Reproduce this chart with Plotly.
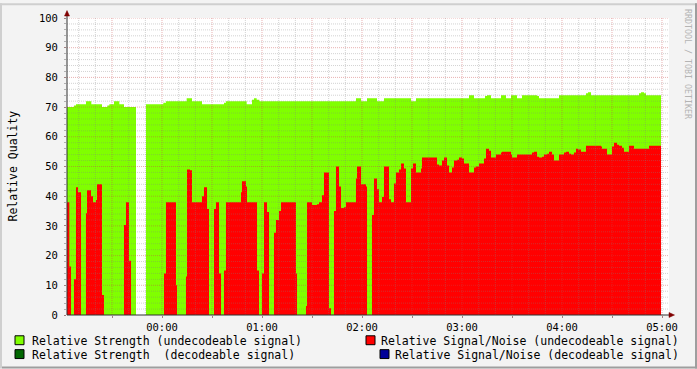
import plotly.graph_objects as go
import pandas as pd

# ---------------- data (minutes relative to 00:00, values in %) ----------------
BASE = pd.Timestamp("2024-01-02 00:00")

strength_t = [-57.5, -52.8, -51.6, -45.6, -42.4, -36, -32.8, -31.6, -28.8, -25.6,
              -22.8, -15.6, -9.6, 0.8, 2.4, 14.8, 18, 24, 37.2, 38.4,
              50.8, 54, 55.2, 56.8, 58.4, 116.4, 119.4, 123, 129, 133.2,
              149.4, 152.4, 184.2, 187.2, 193.8, 195, 197.4, 203.4, 206.4, 209.4,
              213, 216, 225, 226.2, 238.2, 254.4, 255.6, 257.4, 286.2, 287.4,
              289.2, 290.4]
strength_v = [70, 70.5, 71, 72, 71, 70, 70.5, 71, 72, 71,
              70, None, 71, 71.5, 72, 73, 72, 71, 71.5, 72,
              71, 72.5, 73, 72.5, 72, 73, 72, 73, 72, 73,
              72, 73, 74, 73, 73.7, 74, 73, 74, 73, 74,
              73, 74, 73.7, 73, 74, 74.7, 75, 74, 74.7, 75,
              74.7, 74]

snr_t = [-57.5, -55.6, -54.6, -52.8, -51.6, -50.4, -48.6, -45.6, -45, -42.6,
         -41.4, -39.6, -39, -36, -34.8, -22.8, -21.6, -19.8, -18.6, 1.2,
         2.4, 8.4, 9, 14.4, 15, 16.8, 18, 24, 25.2, 27,
         28.2, 31.2, 32.4, 34.2, 35.4, 37.2, 38.4, 47.4, 48, 50.4,
         51, 57, 58.2, 60, 61.2, 63, 64.2, 67.2, 68.4, 70.2,
         71.4, 80.4, 81, 86.4, 87, 90, 93, 94.2, 96, 97.2,
         100.2, 101.4, 103.2, 104.4, 106.2, 107.4, 109.2, 110.4, 116.4, 117,
         119.4, 122.4, 123, 126, 127.2, 129, 130.2, 132, 133.2, 136.2,
         137.4, 139.2, 140.4, 142.2, 143.4, 145.2, 146.4, 149.4, 150.6, 152.4,
         155.4, 156, 165, 166.2, 168, 169.2, 171, 172.2, 174, 175.2,
         177, 178.2, 180, 181.2, 184.2, 187.2, 188.4, 190.2, 193.2, 194.4,
         196.2, 197.4, 200.4, 203.4, 204, 209.4, 210, 213, 222, 223.2,
         225, 226.2, 228, 229.2, 231, 232.2, 234, 235.2, 238.2, 241.2,
         242.4, 244.2, 245.4, 247.2, 248.4, 249.6, 251.4, 254.4, 263.4, 264,
         267, 270, 271.2, 273, 274.2, 276, 277.2, 280.2, 283.2, 292.2]
snr_v = [38, 16.3, 0, 12, 43, 41.3, 0, 34.3, 42, 40,
         38, 38.7, 44, 6.7, 0, 30.3, 38, 18.3, 0, 14,
         38, 10, 0, 13, 49, 48.7, 38, 40, 43, 35.7,
         0, 35.7, 38, 14, 0, 15, 38, 41.3, 45, 43.3,
         38, 15, 0, 14, 38, 34.7, 0, 27.7, 32, 35,
         38, 14, 0, 3, 38, 37, 37.3, 38, 40.3, 48,
         2.3, 0, 35, 50, 43.3, 36, 36.3, 38, 46, 50,
         44, 43.3, 0, 33.7, 46, 42.3, 38, 39.7, 50, 39,
         38, 44.3, 48, 49, 51, 49.3, 38, 49.3, 51, 48,
         49.3, 53, 50.7, 50.3, 52, 53, 50.3, 48, 49.7, 52,
         52.3, 53, 52.7, 51, 48, 49.7, 50, 51, 52.7, 56,
         55.3, 53, 54, 54.7, 55, 54, 53, 54, 54.7, 55,
         53.3, 53, 53.3, 54, 54.3, 55, 54, 52, 54, 54.7,
         55, 54.3, 54, 54.7, 56, 55.7, 55, 57, 56.7, 56,
         54, 56.7, 58, 57.3, 57, 56.3, 55, 57, 56, 57]

data_end = 299.4
x_range = [-57, 304.2]

tick_minutes = [0, 60, 120, 180, 240, 300]
tick_labels = ["00:00", "01:00", "02:00", "03:00", "04:00", "05:00"]

legend_labels = ["Relative Strength (undecodeable signal)",
                 "Relative Signal/Noise (undecodeable signal)",
                 "Relative Strength\u00a0 (decodeable signal)",
                 "Relative Signal/Noise (decodeable signal)"]
legend_colors = ["#80ff00", "#ff0000", "#006600", "#000099"]

assert len(strength_t) == len(strength_v)
assert len(snr_t) == len(snr_v)


def T(m):
    return BASE + pd.Timedelta(minutes=m)


def step_segments(ts, vs, end):
    """Split a step series at unknown (None) values into separate pieces."""
    segs = []
    xs, ys = [], []
    prev = None
    for t, v in zip(ts, vs):
        if v is None:
            if xs:
                xs.append(T(t)); ys.append(prev)
                segs.append((xs, ys))
            xs, ys = [], []
            prev = None
            continue
        xs.append(T(t)); ys.append(v)
        prev = v
    if xs:
        xs.append(T(end)); ys.append(prev)
        segs.append((xs, ys))
    return segs


fig = go.Figure()
for sx, sy in step_segments(strength_t, strength_v, data_end):
    fig.add_trace(go.Scatter(x=sx, y=sy, mode="lines", line=dict(width=0, shape="hv"),
                             fill="tozeroy", fillcolor="#80ff00",
                             showlegend=False, hoverinfo="skip"))
for sx, sy in step_segments(snr_t, snr_v, data_end):
    fig.add_trace(go.Scatter(x=sx, y=sy, mode="lines", line=dict(width=0, shape="hv"),
                             fill="tozeroy", fillcolor="#ff0000",
                             showlegend=False, hoverinfo="skip"))

# ---------------- layout geometry ----------------
W, H = 697, 369
L, R, TOP, B = 67, 28, 15, 54
PW, PH = W - L - R, H - TOP - B


def px(x):
    return (x - L) / PW


def py(y):
    return (H - B - y) / PH


shapes = []
MINOR = "rgba(130,130,130,0.35)"
MAJOR = "rgba(200,70,70,0.42)"
DASH = "1px,1px"

# vertical grid
for m in range(-50, 301, 10):
    col = MAJOR if m % 30 == 0 else MINOR
    shapes.append(dict(type="line", xref="x", yref="y", x0=T(m), x1=T(m), y0=0, y1=100,
                       line=dict(color=col, width=1, dash=DASH), layer="above"))
# horizontal grid
for v in range(2, 101, 2):
    col = MAJOR if v % 10 == 0 else MINOR
    shapes.append(dict(type="line", xref="paper", yref="y", x0=0, x1=1, y0=v, y1=v,
                       line=dict(color=col, width=1, dash=DASH), layer="above"))

# axes lines and arrows
AX = "#303030"
ARROW = "#800000"
shapes.append(dict(type="line", xref="paper", yref="paper", x0=px(67), x1=px(670),
                   y0=py(315), y1=py(315), line=dict(color=AX, width=1), layer="above"))
shapes.append(dict(type="line", xref="paper", yref="paper", x0=px(67), x1=px(67),
                   y0=py(315), y1=py(12), line=dict(color=AX, width=1), layer="above"))
shapes.append(dict(type="path", xref="paper", yref="paper",
                   path=f"M {px(669)},{py(312.5)} L {px(674.5)},{py(315)} L {px(669)},{py(317.5)} Z",
                   fillcolor=ARROW, line=dict(color=ARROW, width=0.5), layer="above"))
shapes.append(dict(type="path", xref="paper", yref="paper",
                   path=f"M {px(64.5)},{py(13)} L {px(67)},{py(7.5)} L {px(69.5)},{py(13)} Z",
                   fillcolor=ARROW, line=dict(color=ARROW, width=0.5), layer="above"))

# image frame (3D shade)
shapes += [
    dict(type="rect", xref="paper", yref="paper", x0=px(0), x1=px(W), y0=py(0), y1=py(2),
         fillcolor="#cfcfcf", line=dict(width=0), layer="above"),
    dict(type="rect", xref="paper", yref="paper", x0=px(0), x1=px(2), y0=py(0), y1=py(H),
         fillcolor="#cfcfcf", line=dict(width=0), layer="above"),
    dict(type="rect", xref="paper", yref="paper", x0=px(W - 2), x1=px(W), y0=py(0), y1=py(H),
         fillcolor="#9e9e9e", line=dict(width=0), layer="above"),
    dict(type="rect", xref="paper", yref="paper", x0=px(2), x1=px(W), y0=py(H - 2), y1=py(H),
         fillcolor="#9e9e9e", line=dict(width=0), layer="above"),
]

# legend boxes and labels
FONT = "DejaVu Sans Mono"
annotations = []
box_pos = [(15, 336), (366, 336), (15, 350), (380, 350)]
text_pos = [(30, 341, "left"), (681, 341, "right"), (30, 355, "left"), (681, 355, "right")]
for (bx, by), (tx, ty, anc), lab, col in zip(box_pos, text_pos, legend_labels, legend_colors):
    shapes.append(dict(type="rect", xref="paper", yref="paper",
                       x0=px(bx), x1=px(bx + 9), y0=py(by), y1=py(by + 9),
                       fillcolor=col, line=dict(color="#000000", width=1), layer="above"))
    annotations.append(dict(xref="paper", yref="paper", x=px(tx), y=py(ty), text=lab,
                            showarrow=False, xanchor=anc, yanchor="middle",
                            font=dict(family=FONT, size=11.5, color="#000000")))

annotations.append(dict(xref="paper", yref="paper", x=px(12), y=py(165), text="Relative Quality",
                        textangle=-90, showarrow=False, xanchor="center", yanchor="middle",
                        font=dict(family=FONT, size=11.5, color="#000000")))
annotations.append(dict(xref="paper", yref="paper", x=px(688), y=py(4), text="RRDTOOL / TOBI OETIKER",
                        textangle=90, showarrow=False, xanchor="center", yanchor="top",
                        font=dict(family=FONT, size=8.3, color="#b4b4b4")))

fig.update_layout(
    width=W, height=H, autosize=False,
    margin=dict(l=L, r=R, t=TOP, b=B, pad=0),
    paper_bgcolor="#f3f3f3", plot_bgcolor="#ffffff",
    showlegend=False,
    shapes=shapes, annotations=annotations,
    xaxis=dict(type="date", range=[T(x_range[0]), T(x_range[1])],
               tickvals=[T(m) for m in tick_minutes], ticktext=tick_labels,
               showgrid=False, zeroline=False, showline=False,
               ticks="outside", ticklen=2, tickcolor="#a08080",
               minor=dict(dtick=30 * 60 * 1000, tick0=T(0), ticks="outside", ticklen=2,
                          tickcolor="#a08080", showgrid=False),
               tickfont=dict(family=FONT, size=10.5, color="#000000")),
    yaxis=dict(range=[0, 100], tickvals=list(range(0, 101, 10)),
               showgrid=False, zeroline=False, showline=False,
               ticks="outside", ticklen=2, tickcolor="#a08080",
               minor=dict(dtick=2, ticks="outside", ticklen=2, tickcolor="#b0b0b0", showgrid=False),
               tickfont=dict(family=FONT, size=10.5, color="#000000"),
               ticklabelstandoff=4),
)

fig.write_html("out.html")
